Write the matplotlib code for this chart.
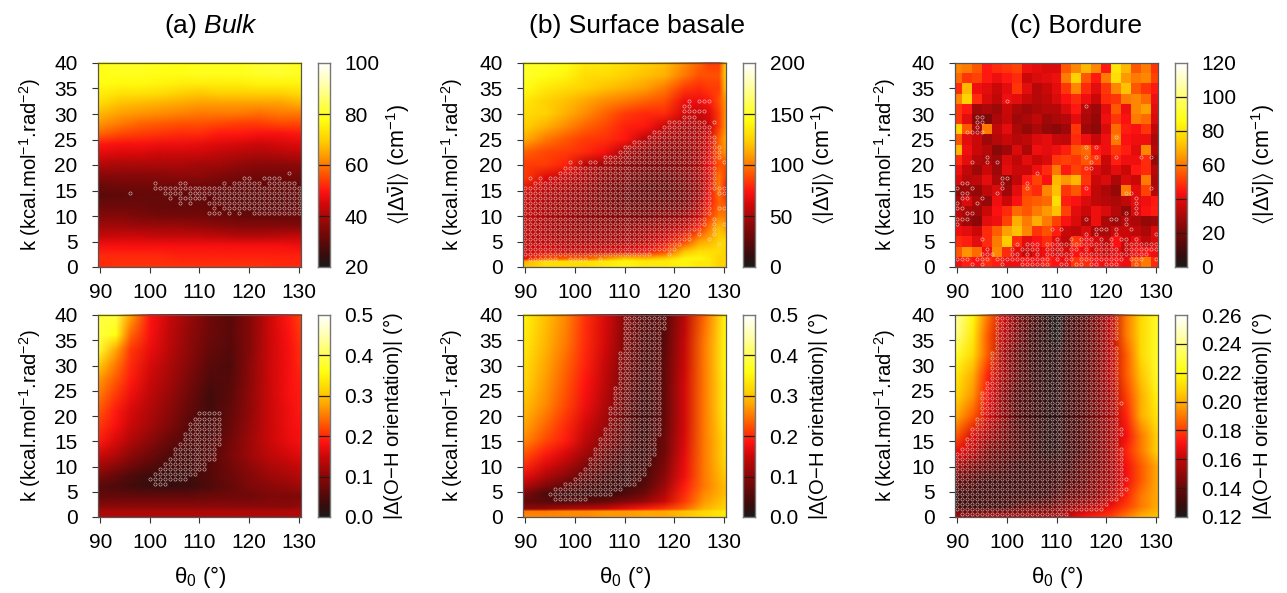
import numpy as np
import matplotlib
matplotlib.use("Agg")
import matplotlib.pyplot as plt
from matplotlib.colors import LinearSegmentedColormap, Normalize
from matplotlib.image import NonUniformImage

plt.rcParams['font.family'] = ['Liberation Sans', 'DejaVu Sans']
plt.rcParams['mathtext.fontset'] = 'custom'
plt.rcParams['mathtext.rm'] = 'Liberation Sans'
plt.rcParams['mathtext.it'] = 'Liberation Sans:italic'
plt.rcParams['mathtext.bf'] = 'Liberation Sans:bold'
plt.rcParams['mathtext.fallback'] = 'stixsans'

# ---------- panel (a) ----------
a_theta = [89.5,94,98,102,106,110,114,118,122,126,130.5]
a_k = [0,2,4,6,8,10,12,14,16,18,20,22,24,26,28,30,32,34,36,38,40]
a_vals = [
[52,53,53,53,53,53,53,53,53,52,52],
[52,52,52,52,51,51,51,51,51,51,51],
[49,49,49,49,49,49,49,49,49,49,48],
[43,44,44,43,43,43,42,41,41,42,43],
[39,39,38,38,38,37,36,35,35,35,35],
[35,35,34,33,33,33,32,31,31,31,32],
[32,32,32,31,31,31,31,30,30,30,31],
[30,30,31,31,31,31,30,30,30,30,31],
[32,33,33,33,33,33,32,31,31,31,31],
[36,36,36,36,37,37,35,34,33,33,34],
[41,40,40,40,40,39,39,37,36,36,37],
[46,45,45,44,44,44,42,41,40,41,42],
[50,49,49,48,48,47,46,45,44,45,46],
[58,55,54,53,52,52,50,50,49,49,50],
[63,60,58,57,56,56,55,54,54,55,55],
[67,64,63,62,61,60,60,60,59,60,60],
[72,68,67,66,65,64,64,64,64,64,66],
[75,73,73,72,70,69,70,70,70,70,72],
[78,77,77,76,75,75,75,75,76,76,76],
[78,79,79,78,78,79,79,79,80,81,79],
[78,80,80,79,78,79,79,79,81,81,79],
]
# ---------- panel (b) ----------
b_theta = [89.5,94,98,102,106,110,114,118,122,125,127,129,130.5]
b_k = [0,1,1.5,3,5,7.5,10,12.5,15,17.5,20,22.5,25,27.5,30,32.5,35,37.5,40]
b_vals = [
[120,130,130,130,135,140,135,135,140,135,135,125,125],
[115,130,130,130,135,140,135,135,140,135,135,125,125],
[70,90,95,95,110,125,120,125,140,140,135,125,125],
[60,65,60,60,62,65,70,85,120,130,130,130,125],
[58,55,52,50,50,50,55,65,85,110,115,125,130],
[58,52,48,45,45,45,47,52,60,80,100,120,110],
[60,50,47,42,40,38,35,40,45,60,85,100,100],
[60,50,47,42,38,32,30,32,35,50,75,95,90],
[65,55,50,45,38,32,28,28,35,45,70,100,70],
[85,65,58,50,42,38,32,32,38,48,65,100,85],
[85,85,78,55,48,42,38,38,42,50,70,90,90],
[95,88,85,80,72,50,42,42,42,50,65,95,110],
[115,100,92,85,82,75,55,48,48,52,65,95,115],
[125,115,105,95,88,78,75,60,50,52,60,85,110],
[130,125,115,105,95,85,80,80,62,60,65,85,110],
[135,125,120,112,105,100,95,90,70,70,75,90,110],
[145,135,130,125,120,115,110,100,85,80,85,85,125],
[150,145,140,130,130,125,120,115,100,90,90,90,130],
[150,150,145,135,135,130,125,120,105,95,85,85,135],
]
# ---------- panel (c), 2x2 blocks, top row first ----------
c_theta_edges = list(range(89, 132, 2))
c_k_edges = list(range(0, 41, 2))
c_vals_top_down = [
[62,60,55,45,48,50,52,42,40,38,38,55,62,70,62,45,80,70,55,60,50],
[58,50,52,45,42,45,48,36,38,40,42,60,75,55,45,60,78,65,60,62,52],
[48,70,42,40,36,40,50,40,32,36,40,50,62,48,40,50,62,72,55,50,45],
[62,75,48,38,34,42,40,36,32,34,38,44,48,42,36,48,50,60,62,58,42],
[50,45,28,30,28,36,30,28,30,32,32,38,45,32,28,40,55,42,62,66,40],
[50,40,24,22,30,35,28,30,34,28,30,32,40,30,26,42,50,44,60,58,38],
[75,55,30,60,34,40,30,26,30,26,24,28,50,28,25,38,58,46,44,50,34],
[55,40,36,28,32,36,32,34,38,40,35,34,48,42,35,42,60,44,42,42,30],
[70,42,36,32,24,28,38,30,42,40,42,46,55,58,45,42,50,46,40,62,32],
[48,40,32,30,28,38,34,40,36,38,50,52,50,55,50,36,46,42,42,48,26],
[42,34,28,36,28,40,36,36,42,48,60,45,52,48,38,34,40,36,45,48,32],
[38,32,34,40,30,26,34,45,52,44,70,65,70,50,36,38,30,38,36,60,30],
[26,28,26,34,38,28,40,52,48,62,72,50,55,45,34,30,26,60,40,52,32],
[30,38,30,26,42,36,44,54,56,58,78,46,44,38,34,32,30,34,40,42,45],
[34,30,28,36,44,48,58,55,60,65,72,52,40,36,42,38,32,26,38,44,46],
[34,28,24,40,42,52,68,60,68,60,52,44,38,30,42,30,28,32,30,26,28],
[42,40,36,48,56,66,72,62,50,54,46,36,34,38,30,30,36,36,34,30,38],
[48,46,40,48,60,74,48,40,44,48,40,34,50,42,38,34,44,36,40,34,38],
[55,64,58,42,62,48,40,36,40,42,38,38,44,42,38,36,40,36,42,44,42],
[42,46,44,48,46,42,42,44,42,46,44,42,50,48,44,42,44,42,54,60,48],
]
# ---------- panel (d) ----------
d_theta = [89.5,93,96,100,104,108,112,116,120,124,128,130.5]
d_k = [0,1,2,4,6,8,10,12,15,18,21,24,27,30,33,36,40]
d_vals = [
[.13,.13,.13,.13,.13,.13,.13,.13,.13,.13,.13,.13],
[.125,.125,.125,.125,.125,.125,.125,.125,.125,.125,.13,.13],
[.10,.10,.10,.10,.10,.10,.10,.10,.10,.10,.10,.11],
[.07,.07,.07,.07,.07,.07,.075,.08,.08,.09,.09,.09],
[.06,.05,.04,.03,.03,.035,.05,.07,.09,.10,.11,.12],
[.09,.07,.05,.035,.03,.035,.055,.075,.095,.115,.125,.135],
[.12,.10,.08,.055,.04,.04,.055,.08,.105,.125,.14,.15],
[.15,.13,.10,.075,.05,.04,.055,.085,.115,.14,.155,.165],
[.19,.16,.13,.10,.07,.05,.05,.08,.115,.15,.17,.18],
[.21,.18,.15,.12,.09,.055,.045,.07,.11,.15,.175,.185],
[.23,.19,.16,.13,.10,.065,.04,.065,.105,.15,.175,.19],
[.25,.21,.175,.14,.11,.075,.04,.06,.105,.15,.18,.19],
[.27,.23,.19,.15,.12,.085,.05,.055,.10,.15,.18,.195],
[.31,.25,.20,.16,.125,.095,.06,.05,.10,.15,.18,.20],
[.38,.28,.21,.17,.135,.10,.07,.055,.095,.15,.18,.205],
[.39,.36,.24,.18,.14,.105,.075,.06,.095,.15,.185,.21],
[.39,.39,.28,.185,.145,.11,.08,.06,.095,.15,.19,.22],
]
# ---------- panel (e) ----------
e_theta = [89.5,94,98,102,106,110,114,118,122,126,130.5]
e_k = [0,1,1.5,3,4.5,6,8,10,12.5,15,18,22,26,30,34,40]
e_vals = [
[.26,.26,.26,.26,.27,.27,.28,.28,.30,.32,.34],
[.25,.25,.26,.26,.27,.27,.28,.28,.30,.32,.34],
[.10,.11,.13,.14,.15,.17,.19,.21,.24,.29,.32],
[.07,.06,.05,.06,.07,.09,.11,.15,.21,.27,.31],
[.09,.05,.04,.035,.035,.05,.08,.13,.20,.26,.30],
[.13,.09,.065,.045,.035,.035,.06,.115,.19,.25,.30],
[.17,.13,.10,.07,.045,.03,.045,.10,.175,.25,.31],
[.20,.16,.13,.09,.06,.035,.04,.09,.17,.25,.32],
[.23,.19,.16,.12,.08,.045,.035,.08,.165,.25,.33],
[.26,.22,.19,.14,.10,.06,.035,.075,.16,.25,.33],
[.28,.24,.20,.155,.115,.065,.035,.07,.155,.25,.34],
[.30,.26,.22,.175,.13,.075,.035,.065,.155,.25,.35],
[.32,.27,.23,.185,.14,.085,.04,.065,.155,.25,.35],
[.33,.28,.24,.195,.145,.09,.045,.065,.15,.25,.36],
[.34,.29,.25,.20,.155,.095,.05,.06,.145,.25,.36],
[.35,.30,.26,.205,.16,.10,.055,.055,.135,.24,.36],
]
# ---------- panel (f) ----------
f_theta = [89.5,93,96,99,102,105,108,110,112,115,118,121,124,127,130.5]
f_k = [0,2,4,7,10,13,16,20,24,28,32,36,40]
f_vals = [
[.155,.15,.155,.155,.155,.155,.155,.155,.16,.17,.175,.18,.19,.20,.205],
[.13,.13,.13,.13,.135,.14,.14,.145,.15,.155,.16,.17,.18,.19,.20],
[.13,.13,.13,.13,.13,.13,.13,.135,.14,.145,.15,.16,.175,.19,.20],
[.14,.135,.13,.13,.13,.13,.13,.13,.135,.14,.15,.155,.17,.185,.20],
[.155,.145,.14,.135,.13,.13,.13,.13,.13,.14,.145,.155,.17,.185,.20],
[.17,.16,.145,.14,.135,.13,.125,.125,.13,.135,.145,.155,.175,.19,.21],
[.185,.165,.155,.145,.135,.13,.125,.125,.13,.135,.145,.155,.17,.19,.21],
[.20,.185,.165,.15,.135,.13,.125,.125,.13,.135,.145,.155,.175,.20,.215],
[.21,.195,.17,.15,.135,.13,.125,.125,.13,.135,.145,.155,.18,.20,.22],
[.215,.20,.175,.155,.14,.13,.125,.125,.13,.135,.145,.16,.185,.205,.225],
[.225,.21,.185,.155,.14,.13,.125,.125,.13,.135,.145,.16,.185,.21,.225],
[.24,.215,.185,.16,.145,.13,.125,.12,.13,.135,.145,.16,.19,.21,.225],
[.245,.22,.19,.165,.145,.135,.125,.12,.13,.135,.145,.16,.19,.21,.225],
]

# Open circles: k value -> runs of theta0 (start, end)
a_dots = {18.5:[(128,128)],17.5:[(119,120),(123,126)],
 16.5:[(101,101),(106,107),(115,115),(117,122),(124,129)],15.5:[(101,130)],
 14.5:[(96,96),(103,106),(108,130)],13.5:[(104,104),(106,111),(113,130)],
 12.5:[(106,106),(108,108),(112,130)],11.5:[(113,113),(115,130)],
 10.5:[(112,114),(116,116),(118,118),(121,130)]}
b_dots = {32.5:[(123,123),(125,127)],31.5:[(122,123)],30.5:[(122,123),(124,126)],29.5:[(122,124)],
 28.5:[(119,126),(128,128)],27.5:[(118,127)],26.5:[(116,127)],25.5:[(115,128)],24.5:[(112,128)],
 23.5:[(110,129)],22.5:[(109,129)],21.5:[(106,129)],
 20.5:[(99,99),(101,101),(103,104),(106,128),(130,130)],19.5:[(98,128)],18.5:[(97,128)],
 17.5:[(91,91),(93,93),(95,128)],16.5:[(92,128)],15.5:[(90,130)],14.5:[(90,127),(129,130)],
 13.5:[(90,127)],12.5:[(90,127)],11.5:[(90,127),(129,130)],10.5:[(90,127)],9.5:[(90,126),(128,128)],
 8.5:[(90,126),(128,128),(130,130)],7.5:[(90,125),(128,128)],6.5:[(90,123),(125,125),(128,128)],
 5.5:[(90,123),(127,127)],4.5:[(90,121),(129,129)],3.5:[(90,120)],2.5:[(90,115),(119,119)],
 1.5:[(91,96),(99,102),(105,105)]}
c_dots = {32.5:[(100,100)],31.5:[(116,116)],29.5:[(94,95)],28.5:[(94,95)],27.5:[(94,94)],
 26.5:[(92,95)],25.5:[(122,122)],23.5:[(116,116),(118,118)],
 21.5:[(96,96),(116,116),(118,118),(122,122),(127,127),(129,129)],
 20.5:[(93,93),(96,96),(98,98),(117,117)],19.5:[(116,117)],18.5:[(106,106)],17.5:[(99,100)],
 16.5:[(91,92),(99,99),(104,104)],15.5:[(90,90),(93,93),(99,99),(104,104),(116,116),(129,129)],
 14.5:[(91,92),(98,98),(124,125)],13.5:[(91,92),(95,95),(126,126)],12.5:[(90,90),(94,94),(126,126)],
 11.5:[(90,91),(126,126)],10.5:[(92,93),(124,124),(126,126)],
 9.5:[(90,92),(116,116),(121,122),(124,124)],8.5:[(90,90),(124,124)],
 7.5:[(109,109),(111,111),(118,120),(122,122),(125,125)],6.5:[(116,116),(118,118),(122,122),(130,130)],
 5.5:[(95,95),(110,110),(113,113),(115,117),(119,119),(121,121),(123,124),(126,126)],
 4.5:[(102,102),(104,106),(108,121),(124,130)],
 3.5:[(96,96),(101,101),(103,106),(108,111),(113,114),(116,116),(118,122),(124,130)],
 2.5:[(95,97),(101,102),(104,104),(106,106),(108,113),(115,128)],
 1.5:[(90,92),(94,96),(98,108),(110,110),(112,113),(115,123),(125,127),(130,130)],
 0.5:[(93,93),(95,95),(99,99),(103,108),(111,112),(114,115),(117,118),(120,122),(126,126)]}
d_dots = {20.5:[(110,114)],19.5:[(109,114)],18.5:[(108,114)],17.5:[(108,114)],16.5:[(107,114)],
 15.5:[(107,114)],14.5:[(106,114)],13.5:[(105,113)],12.5:[(105,113)],11.5:[(104,113)],
 10.5:[(103,111)],9.5:[(102,111)],8.5:[(101,109)],7.5:[(100,107)],6.5:[(101,103)]}
e_dots = {39.5:[(110,118)],38.5:[(110,118)],37.5:[(110,118)],36.5:[(110,117)],35.5:[(110,117)],
 34.5:[(110,117)],33.5:[(110,117)],32.5:[(109,117)],31.5:[(109,117)],30.5:[(109,117)],29.5:[(109,117)],
 28.5:[(109,117)],27.5:[(109,117)],26.5:[(109,117)],25.5:[(108,117)],24.5:[(108,117)],23.5:[(108,117)],
 22.5:[(108,117)],21.5:[(107,117)],20.5:[(107,117)],19.5:[(107,117)],18.5:[(107,117)],17.5:[(106,117)],
 16.5:[(106,117)],15.5:[(105,116)],14.5:[(105,116)],13.5:[(104,116)],12.5:[(104,116)],11.5:[(103,115)],
 10.5:[(103,115)],9.5:[(102,114)],8.5:[(101,114)],7.5:[(100,113)],6.5:[(98,112)],5.5:[(96,109)],
 4.5:[(95,107)],3.5:[(96,102)]}
f_dots = {39.5:[(98,122)],38.5:[(98,122)],37.5:[(98,122)],36.5:[(98,122)],35.5:[(98,122)],34.5:[(98,121)],
 33.5:[(98,122)],32.5:[(97,122)],31.5:[(97,122)],30.5:[(97,122)],29.5:[(97,122)],28.5:[(97,122)],
 27.5:[(97,122)],26.5:[(96,122)],25.5:[(96,122)],24.5:[(95,122)],23.5:[(95,122)],22.5:[(95,123)],
 21.5:[(95,122)],20.5:[(95,122)],19.5:[(94,122)],18.5:[(94,122)],17.5:[(93,123)],16.5:[(93,123)],
 15.5:[(92,122)],14.5:[(92,122)],13.5:[(91,123)],12.5:[(90,123)],11.5:[(90,123)],10.5:[(90,123)],
 9.5:[(90,123)],8.5:[(90,123)],7.5:[(90,124)],6.5:[(90,123)],5.5:[(90,124)],4.5:[(90,123)],
 3.5:[(90,122)],2.5:[(90,120)],1.5:[(90,119)],0.5:[(91,112)]}

x_ticks = [90,100,110,120,130]
y_ticks = [0,5,10,15,20,25,30,35,40]
titles = ['(a) $\\mathit{Bulk}$','(b) Surface basale','(c) Bordure']
freq_label = r'$\langle|\Delta\bar{\mathrm{\nu}}|\rangle$ (cm$^{-1}$)'
orient_label = r'$|\Delta$(O$-$H orientation)$|$ ($\degree$)'
k_label = r'k (kcal.mol$^{-1}$.rad$^{-2}$)'
theta_label = r'$\mathrm{\theta}_0$ ($\degree$)'

W, H = 1287, 593
fig = plt.figure(figsize=(W/100, H/100), dpi=100)

cmap = LinearSegmentedColormap.from_list('heatish', [
 (0,'#1c1a1a'),(.05,'#340e0e'),(.1,'#500a0a'),(.2,'#8a0808'),(.3,'#cc0808'),(.37,'#ff1212'),(.45,'#ff5000'),
 (.55,'#ffa000'),(.62,'#ffcf00'),(.72,'#ffff10'),(.8,'#ffff50'),(.9,'#ffffb0'),(1,'#ffffff')])

def axpx(x0, y0, x1, y1):
    return fig.add_axes([x0/W, 1-y1/H, (x1-x0)/W, (y1-y0)/H])

rows = [(63,267),(315,517)]
cols = [(98,301),(523,726),(955,1158)]
bars = [(318,330),(743,755),(1175,1187)]
ylab_x = [30,452,885]
clab_x = [[398,823,1263],[393,818,1262]]
xlab_cx = [200,625,1057]
title_cx = [211,637,1076]

panels = [
 [(a_theta,a_k,a_vals,a_dots,20,100,[20,40,60,80,100],'%d',freq_label),
  (b_theta,b_k,b_vals,b_dots,0,200,[0,50,100,150,200],'%d',freq_label),
  (None,None,None,c_dots,0,120,[0,20,40,60,80,100,120],'%d',freq_label)],
 [(d_theta,d_k,d_vals,d_dots,0,.5,[0,.1,.2,.3,.4,.5],'%.1f',orient_label),
  (e_theta,e_k,e_vals,e_dots,0,.5,[0,.1,.2,.3,.4,.5],'%.1f',orient_label),
  (f_theta,f_k,f_vals,f_dots,.12,.26,[.12,.14,.16,.18,.20,.22,.24,.26],'%.2f',orient_label)],
]
FS = 15
FRAME = '#555555'
for r,(y0,y1) in enumerate(rows):
    for c,(x0,x1) in enumerate(cols):
        th,ks,vals,dots,vmin,vmax,cticks,fmt,clabel = panels[r][c]
        ax = axpx(x0,y0,x1,y1)
        if th is None:
            ax.pcolormesh(c_theta_edges,c_k_edges,np.array(c_vals_top_down)[::-1],cmap=cmap,vmin=vmin,vmax=vmax,shading='flat')
        else:
            im = NonUniformImage(ax,interpolation='bilinear',cmap=cmap,norm=Normalize(vmin,vmax))
            im.set_data(th,ks,np.array(vals,dtype=float))
            ax.add_image(im)
        px,py = [],[]
        for kv,runs in dots.items():
            for s,e in runs:
                for t in range(s,e+1):
                    px.append(t); py.append(kv)
        line, = ax.plot(px,py,ls='none',marker='o',ms=2.3,mfc='none',mec='#f0e4e4',mew=0.42,alpha=0.85)
        line.set_snap(False)
        ax.set_xlim(89.5,130.5); ax.set_ylim(0,40)
        ax.set_xticks(x_ticks); ax.set_yticks(y_ticks)
        ax.tick_params(length=4.3,width=0.8,color='#333333',labelsize=FS)
        ax.tick_params(axis='y',pad=10.5)
        ax.tick_params(axis='x',pad=7)
        for s in ax.spines.values():
            s.set_color(FRAME); s.set_linewidth(0.9)
        fig.text(ylab_x[c]/W,1-((y0+y1)/2)/H,k_label,rotation=90,ha='center',va='center',fontsize=14.6)
        bx0,bx1 = bars[c]
        cax = axpx(bx0,y0,bx1,y1)
        grad = np.linspace(vmin,vmax,256).reshape(-1,1)
        cax.imshow(grad,origin='lower',aspect='auto',cmap=cmap,vmin=vmin,vmax=vmax,extent=(0,1,vmin,vmax))
        for tv in cticks[1:-1]:
            cax.axhline(tv,color='#2a1a10',lw=0.9)
        cax.set_xticks([]); cax.yaxis.tick_right()
        cax.set_yticks(cticks); cax.set_yticklabels([fmt%v for v in cticks])
        cax.tick_params(length=0,labelsize=FS,pad=10.5)
        for s in cax.spines.values():
            s.set_color('#777777'); s.set_linewidth(1.0)
        fig.text(clab_x[r][c]/W,1-((y0+y1)/2)/H,clabel,rotation=90,ha='center',va='center',
                 fontsize=15.5 if r==0 else 14.6)
        if r==1:
            fig.text(xlab_cx[c]/W,1-577/H,theta_label,ha='center',va='center',fontsize=16)
        else:
            fig.text(title_cx[c]/W,1-26/H,titles[c],ha='center',va='center',fontsize=19)

fig.savefig('out.png',dpi=100)
